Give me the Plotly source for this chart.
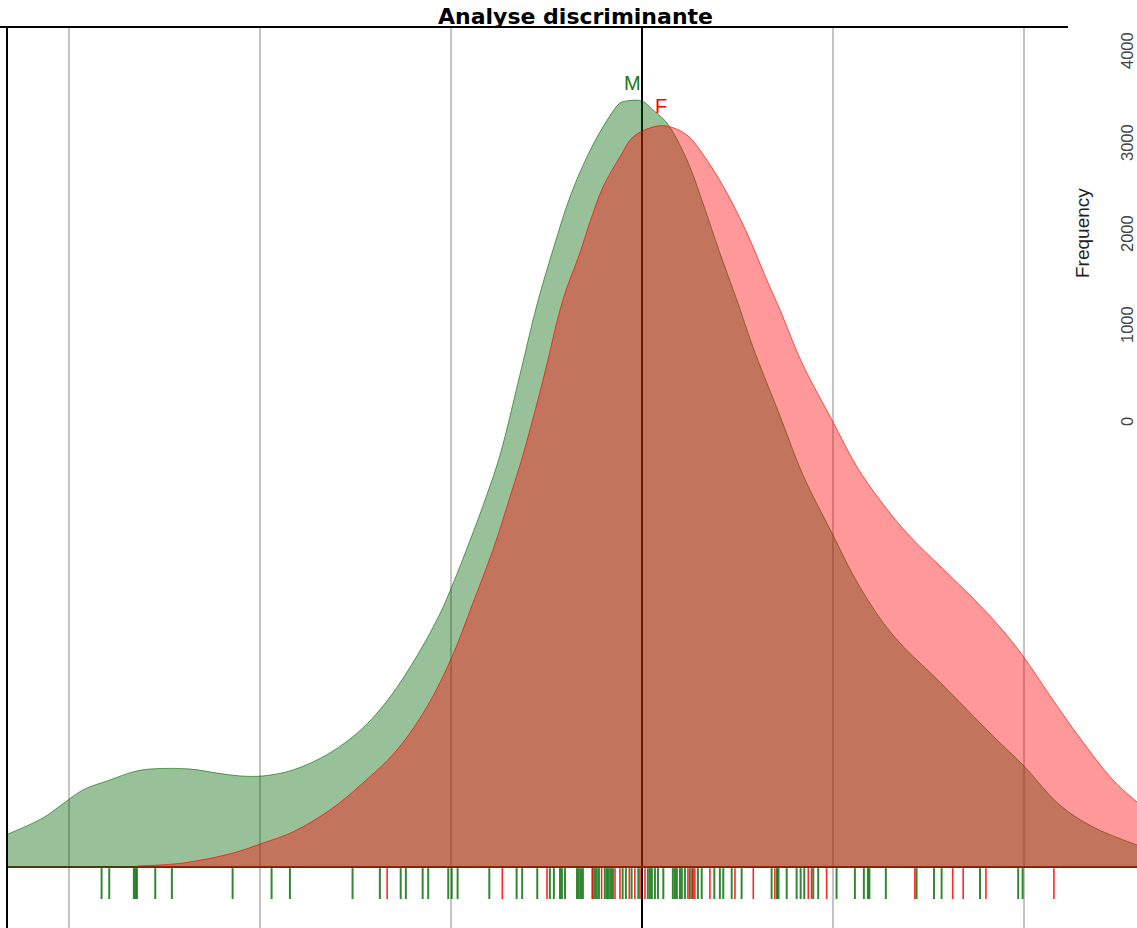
import plotly.graph_objects as go

# ---------------- data ----------------
# density curve of group M (discriminant score -> density)
m_x = [-3.319, -3.136, -3.047, -2.927, -2.785, -2.665, -2.576, -2.366, -2.225, -2.105,
       -1.984, -1.827, -1.634, -1.461, -1.319, -1.178, -1.058, -0.990, -0.901, -0.812,
       -0.743, -0.639, -0.550, -0.466, -0.377, -0.288, -0.204, -0.115, -0.079, 0.000,
       0.058, 0.131, 0.236, 0.319, 0.408, 0.497, 0.581, 0.723, 0.843,
       0.995, 1.141, 1.314, 1.576, 1.838, 1.995, 2.188, 2.361, 2.592]
m_y = [0.0172, 0.0256, 0.0318, 0.0402, 0.0454, 0.0496, 0.0511, 0.0511, 0.0490, 0.0475,
       0.0475, 0.0506, 0.0595, 0.0725, 0.0887, 0.1101, 0.1320, 0.1476, 0.1701, 0.1941,
       0.2149, 0.2567, 0.2932, 0.3219, 0.3495, 0.3704, 0.3860, 0.3985, 0.3996, 0.3996,
       0.3949, 0.3881, 0.3688, 0.3464, 0.3203, 0.2958, 0.2713, 0.2353, 0.2045,
       0.1742, 0.1461, 0.1210, 0.0949, 0.0683, 0.0532, 0.0323, 0.0209, 0.0115]

# density curve of group F
f_x = [-2.644, -2.403, -2.141, -1.984, -1.827, -1.634, -1.461, -1.283, -1.126, -0.995,
       -0.885, -0.780, -0.691, -0.623, -0.518, -0.414, -0.325, -0.272, -0.204, -0.115,
       -0.047, 0.058, 0.131, 0.236, 0.340, 0.445, 0.550, 0.654, 0.723, 0.843,
       0.995, 1.126, 1.246, 1.387, 1.576, 1.733, 1.874, 1.995, 2.152, 2.293,
       2.466, 2.592]
f_y = [0.0005, 0.0021, 0.0073, 0.0125, 0.0183, 0.0297, 0.0438, 0.0610, 0.0835, 0.1095,
       0.1377, 0.1654, 0.1930, 0.2149, 0.2540, 0.2958, 0.3203, 0.3365, 0.3547, 0.3704,
       0.3808, 0.3860, 0.3865, 0.3818, 0.3688, 0.3516, 0.3307, 0.3062, 0.2906, 0.2619,
       0.2332, 0.2087, 0.1914, 0.1742, 0.1555, 0.1403, 0.1252, 0.1101, 0.0871, 0.0673,
       0.0454, 0.0339]

# individual scores (rug)
m_scores = [-2.829, -2.789, -2.660, -2.652, -2.644, -2.548, -2.461, -2.143, -1.939, -1.843,
            -1.515, -1.372, -1.263, -1.236, -1.148, -1.119, -1.014, -0.996, -0.965, -0.799,
            -0.656, -0.627, -0.548, -0.482, -0.461, -0.429, -0.419, -0.403, -0.340, -0.330,
            -0.319, -0.309, -0.257, -0.246, -0.236, -0.225, -0.194, -0.183, -0.173, -0.162,
            -0.152, -0.101, -0.084, -0.054, -0.019, 0.031, 0.042, 0.052, 0.068, 0.084,
            0.112, 0.162, 0.173, 0.183, 0.199, 0.209, 0.225, 0.251, 0.267, 0.293,
            0.313, 0.379, 0.408, 0.426, 0.470, 0.522, 0.679, 0.707, 0.715, 0.758,
            0.810, 0.831, 0.850, 0.897, 0.923, 1.019, 1.115, 1.162, 1.183, 1.191,
            1.277, 1.438, 1.529, 1.569, 1.770, 1.970, 1.993]
f_scores = [-1.334, -0.731, -0.497, -0.260, -0.211, -0.141, -0.115, -0.066, -0.037, -0.010,
            0.016, 0.241, 0.262, 0.277, 0.356, 0.487, 0.583, 0.696, 0.871, 0.888,
            0.967, 1.429, 1.627, 1.682, 1.801, 2.157]

group_labels = ["M", "F"]
freq_ticks = [0, 1000, 2000, 3000, 4000]
title_text = "Analyse discriminante"
freq_title = "Frequency"

# ---------------- layout / styles ----------------
W, H = 1137, 928
X_RANGE = [-3.319, 2.592]
Y_RANGE = [-0.03182, 0.43818]
RUG_TOP, RUG_BOT = -0.0006, -0.0167
FREQ_LABEL_PY = [422, 325, 234, 143, 51]   # pixel centres of the right-hand labels

GREEN_FILL = "rgba(0,100,0,0.4)"
GREEN_LINE = "rgba(0,100,0,0.6)"
RED_FILL = "rgba(255,0,0,0.4)"
RED_LINE = "rgba(255,0,0,0.65)"


def px_to_paper_x(px):
    return (px - 8) / 1129


def py_to_paper_y(py):
    return (928 - py) / 901


def rug(vals):
    xs, ys = [], []
    for v in vals:
        xs += [v, v, None]
        ys += [RUG_TOP, RUG_BOT, None]
    return xs, ys


fig = go.Figure()
fig.add_trace(go.Scatter(x=m_x, y=m_y, mode="lines", fill="tozeroy",
                         fillcolor=GREEN_FILL,
                         line=dict(color=GREEN_LINE, width=1, shape="spline", smoothing=1.0),
                         name="M", hoverinfo="skip"))
fig.add_trace(go.Scatter(x=f_x, y=f_y, mode="lines", fill="tozeroy",
                         fillcolor=RED_FILL,
                         line=dict(color=RED_LINE, width=1, shape="spline", smoothing=1.0),
                         name="F", hoverinfo="skip"))

rx, ry = rug(m_scores)
fig.add_trace(go.Scatter(x=rx, y=ry, mode="lines",
                         line=dict(color="rgba(0,105,0,0.8)", width=2),
                         hoverinfo="skip", showlegend=False))
rx, ry = rug(f_scores)
fig.add_trace(go.Scatter(x=rx, y=ry, mode="lines",
                         line=dict(color="rgba(255,0,0,0.85)", width=1.6),
                         hoverinfo="skip", showlegend=False))

# group labels above each peak
m_peak = max(range(len(m_y)), key=lambda i: m_y[i])
f_peak = max(range(len(f_y)), key=lambda i: f_y[i])
lab_font = "Liberation Sans Narrow, Liberation Sans, Arial, sans-serif"
annotations = [
    dict(x=m_x[m_peak], y=m_y[m_peak], text=group_labels[0], showarrow=False,
         xanchor="center", yanchor="middle", xshift=6, yshift=18,
         font=dict(family=lab_font, size=20, color="#157a15")),
    dict(x=f_x[f_peak], y=f_y[f_peak], text=group_labels[1], showarrow=False,
         xanchor="center", yanchor="middle", xshift=-6, yshift=20,
         font=dict(family=lab_font, size=20, color="#ff0000")),
]

# title
annotations.append(dict(text="<b>" + title_text + "</b>", xref="paper", yref="paper",
                        x=px_to_paper_x(575), y=1, xanchor="center", yanchor="bottom",
                        yshift=-4, showarrow=False,
                        font=dict(family="DejaVu Sans, Verdana, sans-serif", size=22,
                                  color="black")))

# frequency labels at the right (rotated)
for t, py in zip(freq_ticks, FREQ_LABEL_PY):
    annotations.append(dict(text=str(t), xref="paper", yref="paper",
                            x=px_to_paper_x(1127), y=py_to_paper_y(py), textangle=-90,
                            xanchor="center", yanchor="middle", showarrow=False,
                            font=dict(family="Liberation Sans, Arial, sans-serif",
                                      size=16.5, color="#444")))
annotations.append(dict(text=freq_title, xref="paper", yref="paper",
                        x=px_to_paper_x(1083), y=py_to_paper_y(233), textangle=-90,
                        xanchor="center", yanchor="middle", showarrow=False,
                        font=dict(family="Liberation Sans, Arial, sans-serif",
                                  size=19, color="#222")))

fig.update_layout(
    width=W, height=H,
    margin=dict(l=8, r=0, t=27, b=0, pad=0),
    paper_bgcolor="white", plot_bgcolor="white",
    showlegend=False,
    annotations=annotations,
    xaxis=dict(range=X_RANGE, showgrid=True, dtick=1, tick0=0,
               gridcolor="#c4c4c4", gridwidth=2,
               zeroline=True, zerolinecolor="black", zerolinewidth=2,
               showticklabels=False, ticks="", showline=False, fixedrange=True),
    yaxis=dict(range=Y_RANGE, showgrid=False,
               zeroline=True, zerolinecolor="#7a2412", zerolinewidth=2,
               showticklabels=False, ticks="",
               showline=True, linecolor="black", linewidth=2, fixedrange=True),
    shapes=[dict(type="line", xref="paper", yref="paper",
                 x0=px_to_paper_x(0), x1=px_to_paper_x(1068), y0=1, y1=1,
                 line=dict(color="black", width=2))],
)

fig.write_html("out.html")
